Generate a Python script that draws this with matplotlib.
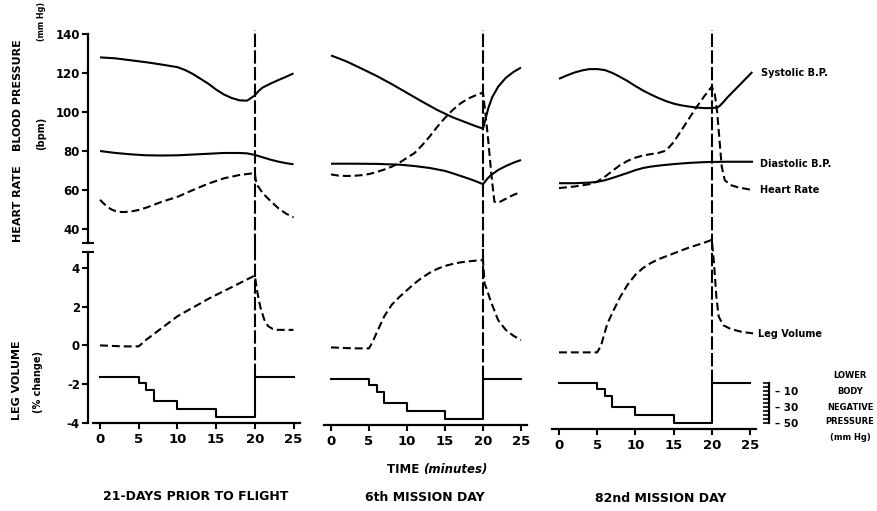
import matplotlib
matplotlib.use('Agg')
import matplotlib.pyplot as plt
from matplotlib.ticker import FixedLocator

# ---------------- DATA ----------------
# Column 1: 21 days prior to flight
t_sys_1 = [0, 2, 4, 6, 8, 10, 11, 12, 13, 14, 15, 16, 17, 18, 19, 20, 20.5, 21, 22, 23, 24, 25]
sys_1 = [128, 127.5, 126.5, 125.5, 124.3, 123, 121.5, 119.5, 117, 114.5, 111.5, 109, 107.2, 106, 105.8,
         108.5, 110.8, 112.5, 114.5, 116.3, 118, 119.8]
t_dia_1 = [0, 2, 4, 6, 8, 10, 12, 14, 16, 18, 19, 20, 21, 22, 23, 24, 25]
dia_1 = [80, 79, 78.3, 77.8, 77.7, 77.8, 78.2, 78.6, 79, 79, 78.8, 78, 76.8, 75.6, 74.6, 73.8, 73.2]
t_hr_1 = [0, 0.5, 1, 1.5, 2, 2.5, 3, 4, 5, 6, 7, 8, 10, 12, 14, 16, 18, 20, 20.2, 20.5, 21, 22, 23, 24, 25]
hr_1 = [55, 53, 51.3, 50, 49.2, 48.8, 48.7, 49, 49.8, 51, 52.5, 54, 56.5, 60, 63.3, 66, 67.7, 68.7,
        63, 61.5, 58.5, 54.5, 50.8, 48, 46]
t_lv_1 = [0, 3, 5, 6, 8, 10, 12, 14, 16, 18, 20, 20.3, 20.7, 21.2, 21.7, 22.3, 23, 25]
lv_1 = [0, -0.05, -0.05, 0.3, 0.9, 1.5, 1.95, 2.4, 2.8, 3.2, 3.6, 2.8, 2.0, 1.35, 1.0, 0.85, 0.8, 0.8]

# Column 2: 6th mission day
t_sys_2 = [0, 2, 4, 6, 8, 10, 12, 14, 16, 18, 19, 20, 20.3, 20.7, 21.2, 22, 23, 24, 25]
sys_2 = [129, 126, 122.3, 118.5, 114.3, 109.8, 105.3, 101, 97.3, 94.3, 92.8, 91.5, 96, 102, 107.5,
         113, 117.5, 120.5, 122.8]
t_dia_2 = [0, 3, 6, 9, 11, 13, 15, 16, 17, 18, 19, 20, 20.5, 21, 22, 23, 24, 25]
dia_2 = [73.5, 73.5, 73.4, 73, 72.3, 71.3, 69.8, 68.6, 67.3, 66, 64.6, 63, 65.5, 67.5, 70.3, 72.3, 74, 75.4]
t_hr_2 = [0, 1, 2, 3, 4, 5, 6, 7, 8, 9, 10, 11, 12, 13, 14, 15, 16, 17, 18, 19, 20,
          20.3, 20.7, 21.1, 21.5, 22, 23, 24, 25]
hr_2 = [68, 67.4, 67.2, 67.3, 67.6, 68.2, 69.2, 70.5, 72, 74, 76.5, 79, 83, 87.5, 92.5, 97, 101,
        104.3, 106.8, 108.5, 110, 100, 85, 68, 54, 53.5, 55.5, 57.5, 59]
t_lv_2 = [0, 3, 5, 5.5, 6, 7, 8, 9, 10, 11, 12, 13, 14, 15, 16, 17, 18, 19, 20,
          20.2, 20.5, 21, 21.5, 22, 23, 24, 25]
lv_2 = [0, -0.05, -0.05, 0.3, 0.75, 1.6, 2.2, 2.6, 2.95, 3.3, 3.6, 3.85, 4.05, 4.2, 4.3, 4.38, 4.43,
        4.47, 4.5, 3.3, 3.0, 2.4, 1.9, 1.4, 0.9, 0.6, 0.38]

# Column 3: 82nd mission day
t_sys_3 = [0, 1, 2, 3, 4, 5, 6, 7, 8, 9, 10, 11, 12, 13, 14, 15, 16, 17, 18, 19, 20, 20.7,
           21, 21.5, 22, 23, 24, 25, 25.3]
sys_3 = [117, 118.7, 120.2, 121.3, 122, 122, 121.5, 120, 118, 115.8, 113.3, 111, 109, 107.2, 105.6,
         104.3, 103.4, 102.8, 102.3, 102, 102, 102.3, 103, 105, 107.3, 111.3, 115.3, 119.3, 120.5]
t_dia_3 = [0, 2, 4, 5, 6, 7, 8, 9, 10, 11, 12, 13, 14, 15, 16, 17, 18, 19, 20, 22, 24, 25.4]
dia_3 = [63.5, 63.5, 63.8, 64.2, 65, 66.2, 67.5, 68.8, 70.2, 71.3, 72, 72.5, 72.9, 73.3, 73.6, 73.9,
         74.1, 74.3, 74.4, 74.5, 74.5, 74.5]
t_hr_3 = [0, 2, 4, 5, 6, 7, 8, 9, 10, 11, 12, 13, 14, 15, 16, 17, 18, 19, 20,
          20.4, 20.7, 21, 21.3, 21.7, 22.5, 23.5, 24.5, 25.3]
hr_3 = [61, 61.8, 63, 64.3, 66.8, 69.8, 72.8, 75, 76.6, 77.7, 78.4, 79, 80.2, 84.5, 90.5, 96.5,
        102.5, 108, 113, 109, 100, 86, 72, 65, 62.5, 61.3, 60.6, 60]
t_lv_3 = [0, 3, 5, 5.5, 6.3, 7, 8, 9, 10, 11, 12, 13, 15, 17, 19, 20, 20.3, 20.6, 20.9, 21.5,
          22.5, 24, 25.4]
lv_3 = [-0.05, -0.05, -0.05, 0.3, 1.4, 2.0, 2.8, 3.45, 3.95, 4.3, 4.55, 4.75, 5.05, 5.35, 5.6, 5.75,
        4.5, 2.8, 1.8, 1.35, 1.15, 1.0, 0.93]

# Lower body negative pressure protocol (mm Hg), step function
lbnp_t = [0, 5, 6, 7, 10, 15, 20, 25]
lbnp_p = [0, -8, -16, -30, -40, -50, 0, 0]
release_t = 20

x_ticks = [0, 5, 10, 15, 20, 25]
bp_ticks = [40, 60, 80, 100, 120, 140]
lv_ticks = [-4, -2, 0, 2, 4]
lv_tick_labels = ['-4', '-2', '0', '2', '4']
lbnp_ticks = [-10, -30, -50]
lbnp_tick_labels = ['– 10', '– 30', '– 50']
col_titles = ['21-DAYS PRIOR TO FLIGHT', '6th MISSION DAY', '82nd MISSION DAY']

columns = [
    (t_sys_1, sys_1, t_dia_1, dia_1, t_hr_1, hr_1, t_lv_1, lv_1),
    (t_sys_2, sys_2, t_dia_2, dia_2, t_hr_2, hr_2, t_lv_2, lv_2),
    (t_sys_3, sys_3, t_dia_3, dia_3, t_hr_3, hr_3, t_lv_3, lv_3),
]

# ---------------- LAYOUT ----------------
W, H = 877, 511
plt.rcParams['font.family'] = ['DejaVu Sans']
plt.rcParams['font.weight'] = 'bold'
fig = plt.figure(figsize=(W / 100, H / 100), dpi=100)
fig.patch.set_facecolor('white')


def fx(x):
    return x / W


def fy(y):
    return 1 - y / H


geom = [(100, 7.74, 423), (331, 7.60, 425), (559, 7.64, 429)]  # px of t=0, px/min, px of x-axis
XMIN, XMAX = -1.6, 26.5
TOP_PX, MID_PX = 25, 247
BP_LO, BP_HI = 30.8, 144.6
LV_PX = 19.4           # px per % leg volume
LB0, LBK = -1.63, 0.0412  # leg-volume-axis position of 0 mm Hg, % per mm Hg

LW = 1.5
DASH = (0, (3.8, 1.9))
VDASH = (0, (6.4, 1.6))
K = 'black'

for i, (x0, s, ybot) in enumerate(geom):
    ts, sy, td, di, th, hr, tl, lv = columns[i]
    left = fx(x0 + XMIN * s)
    width = (XMAX - XMIN) * s / W

    axt = fig.add_axes([left, fy(MID_PX), width, (MID_PX - TOP_PX) / H])
    axl = fig.add_axes([left, fy(ybot), width, (ybot - MID_PX) / H])
    axp = axl.twinx()
    lv_top = -4 + (ybot - MID_PX) / LV_PX
    for ax in (axt, axl, axp):
        ax.set_xlim(XMIN, XMAX)
        ax.patch.set_alpha(0)
        for sp in ax.spines.values():
            sp.set_visible(False)
            sp.set_linewidth(1.6)
        ax.tick_params(left=False, right=False, bottom=False, top=False,
                       labelleft=False, labelright=False, labelbottom=False)
        ax.tick_params(which='minor', left=False, right=False, bottom=False, top=False)
    axt.set_ylim(BP_LO, BP_HI)
    axl.set_ylim(-4, lv_top)
    axp.set_ylim((-4 - LB0) / LBK, (lv_top - LB0) / LBK)

    # blood pressure & heart rate
    axt.plot(ts, sy, color=K, lw=LW, clip_on=False, solid_capstyle='butt')
    axt.plot(td, di, color=K, lw=LW, clip_on=False, solid_capstyle='butt')
    axt.plot(th, hr, color=K, lw=LW, ls=DASH, clip_on=False)
    axt.vlines(release_t, BP_LO, 142.2, color=K, lw=LW, linestyles=[VDASH], clip_on=False)

    # leg volume
    axl.plot(tl, lv, color=K, lw=LW, ls=DASH, clip_on=False)

    # LBNP on its own scale
    axp.step(lbnp_t, lbnp_p, where='post', color=K, lw=LW, clip_on=False)
    axp.vlines(release_t, 0, axp.get_ylim()[1], color=K, lw=LW, linestyles=[VDASH], clip_on=False)

    # x axis
    axl.spines['bottom'].set_visible(True)
    axl.spines['bottom'].set_bounds(-0.9, 25.8)
    axl.set_xticks(x_ticks)
    axl.tick_params(axis='x', bottom=True, labelbottom=True, direction='out', length=4,
                    width=1.5, pad=3, labelsize=9.5)

    if i == 0:
        axt.spines['left'].set_visible(True)
        axt.spines['left'].set_bounds(32.8, 140)
        axt.set_yticks(bp_ticks)
        axt.yaxis.set_minor_locator(FixedLocator([32.8]))
        axt.tick_params(axis='y', which='major', left=True, labelleft=True, direction='out',
                        length=4.5, width=1.5, pad=1, labelsize=8.5)
        axt.tick_params(axis='y', which='minor', left=True, direction='inout', length=8, width=1.5)
        axl.spines['left'].set_visible(True)
        axl.spines['left'].set_bounds(-4, 4.82)
        axl.set_yticks(lv_ticks, labels=lv_tick_labels)
        axl.yaxis.set_minor_locator(FixedLocator([4.82]))
        axl.tick_params(axis='y', which='major', left=True, labelleft=True, direction='out',
                        length=4.5, width=1.5, pad=1, labelsize=8.5)
        axl.tick_params(axis='y', which='minor', left=True, direction='inout', length=8, width=1.5)

    if i == 2:
        right_px = x0 + XMAX * s
        axp.spines['right'].set_visible(True)
        axp.spines['right'].set_position(('outward', (769 - right_px) * 0.72))
        axp.spines['right'].set_bounds(-50, 0)
        axp.set_yticks(lbnp_ticks, labels=lbnp_tick_labels)
        axp.yaxis.set_minor_locator(FixedLocator(list(range(0, -51, -5))))
        axp.tick_params(axis='y', which='major', right=True, labelright=True, direction='in',
                        length=4, width=1.2, pad=4, labelsize=7.5)
        axp.tick_params(axis='y', which='minor', right=True, direction='in', length=4, width=1.2)

# ---------------- TEXT ----------------
def t(x, y, s, size, rot=0, ha='center', va='center', style='normal'):
    fig.text(fx(x), fy(y), s, fontsize=size, rotation=rot, ha=ha, va=va,
             fontweight='bold', style=style)

t(18, 95, 'BLOOD PRESSURE', 8, rot=90)
t(41, 21, '(mm Hg)', 5.8, rot=90)
t(41, 133, '(bpm)', 7, rot=90)
t(18, 204, 'HEART RATE', 8, rot=90)
t(17, 380, 'LEG VOLUME', 8, rot=90)
t(38, 382, '(% change)', 7, rot=90)

fig.text(fx(423), fy(469), 'TIME ', fontsize=8.5, fontweight='bold', ha='right', va='center')
fig.text(fx(423), fy(469), '(minutes)', fontsize=8.5, fontweight='bold', ha='left', va='center',
         style='italic')

t(196, 496, col_titles[0], 9)
t(425, 497, col_titles[1], 9)
t(661, 498, col_titles[2], 9)

t(761, 73, 'Systolic B.P.', 7, ha='left')
t(760, 164, 'Diastolic B.P.', 7, ha='left')
t(760, 190, 'Heart Rate', 7, ha='left')
t(758, 334, 'Leg Volume', 7, ha='left')

for yy, s in zip([375, 392, 407, 422, 438], ['LOWER', 'BODY', 'NEGATIVE', 'PRESSURE', '(mm Hg)']):
    t(850, yy, s, 6)

fig.savefig('out.png', dpi=100, facecolor='white')
